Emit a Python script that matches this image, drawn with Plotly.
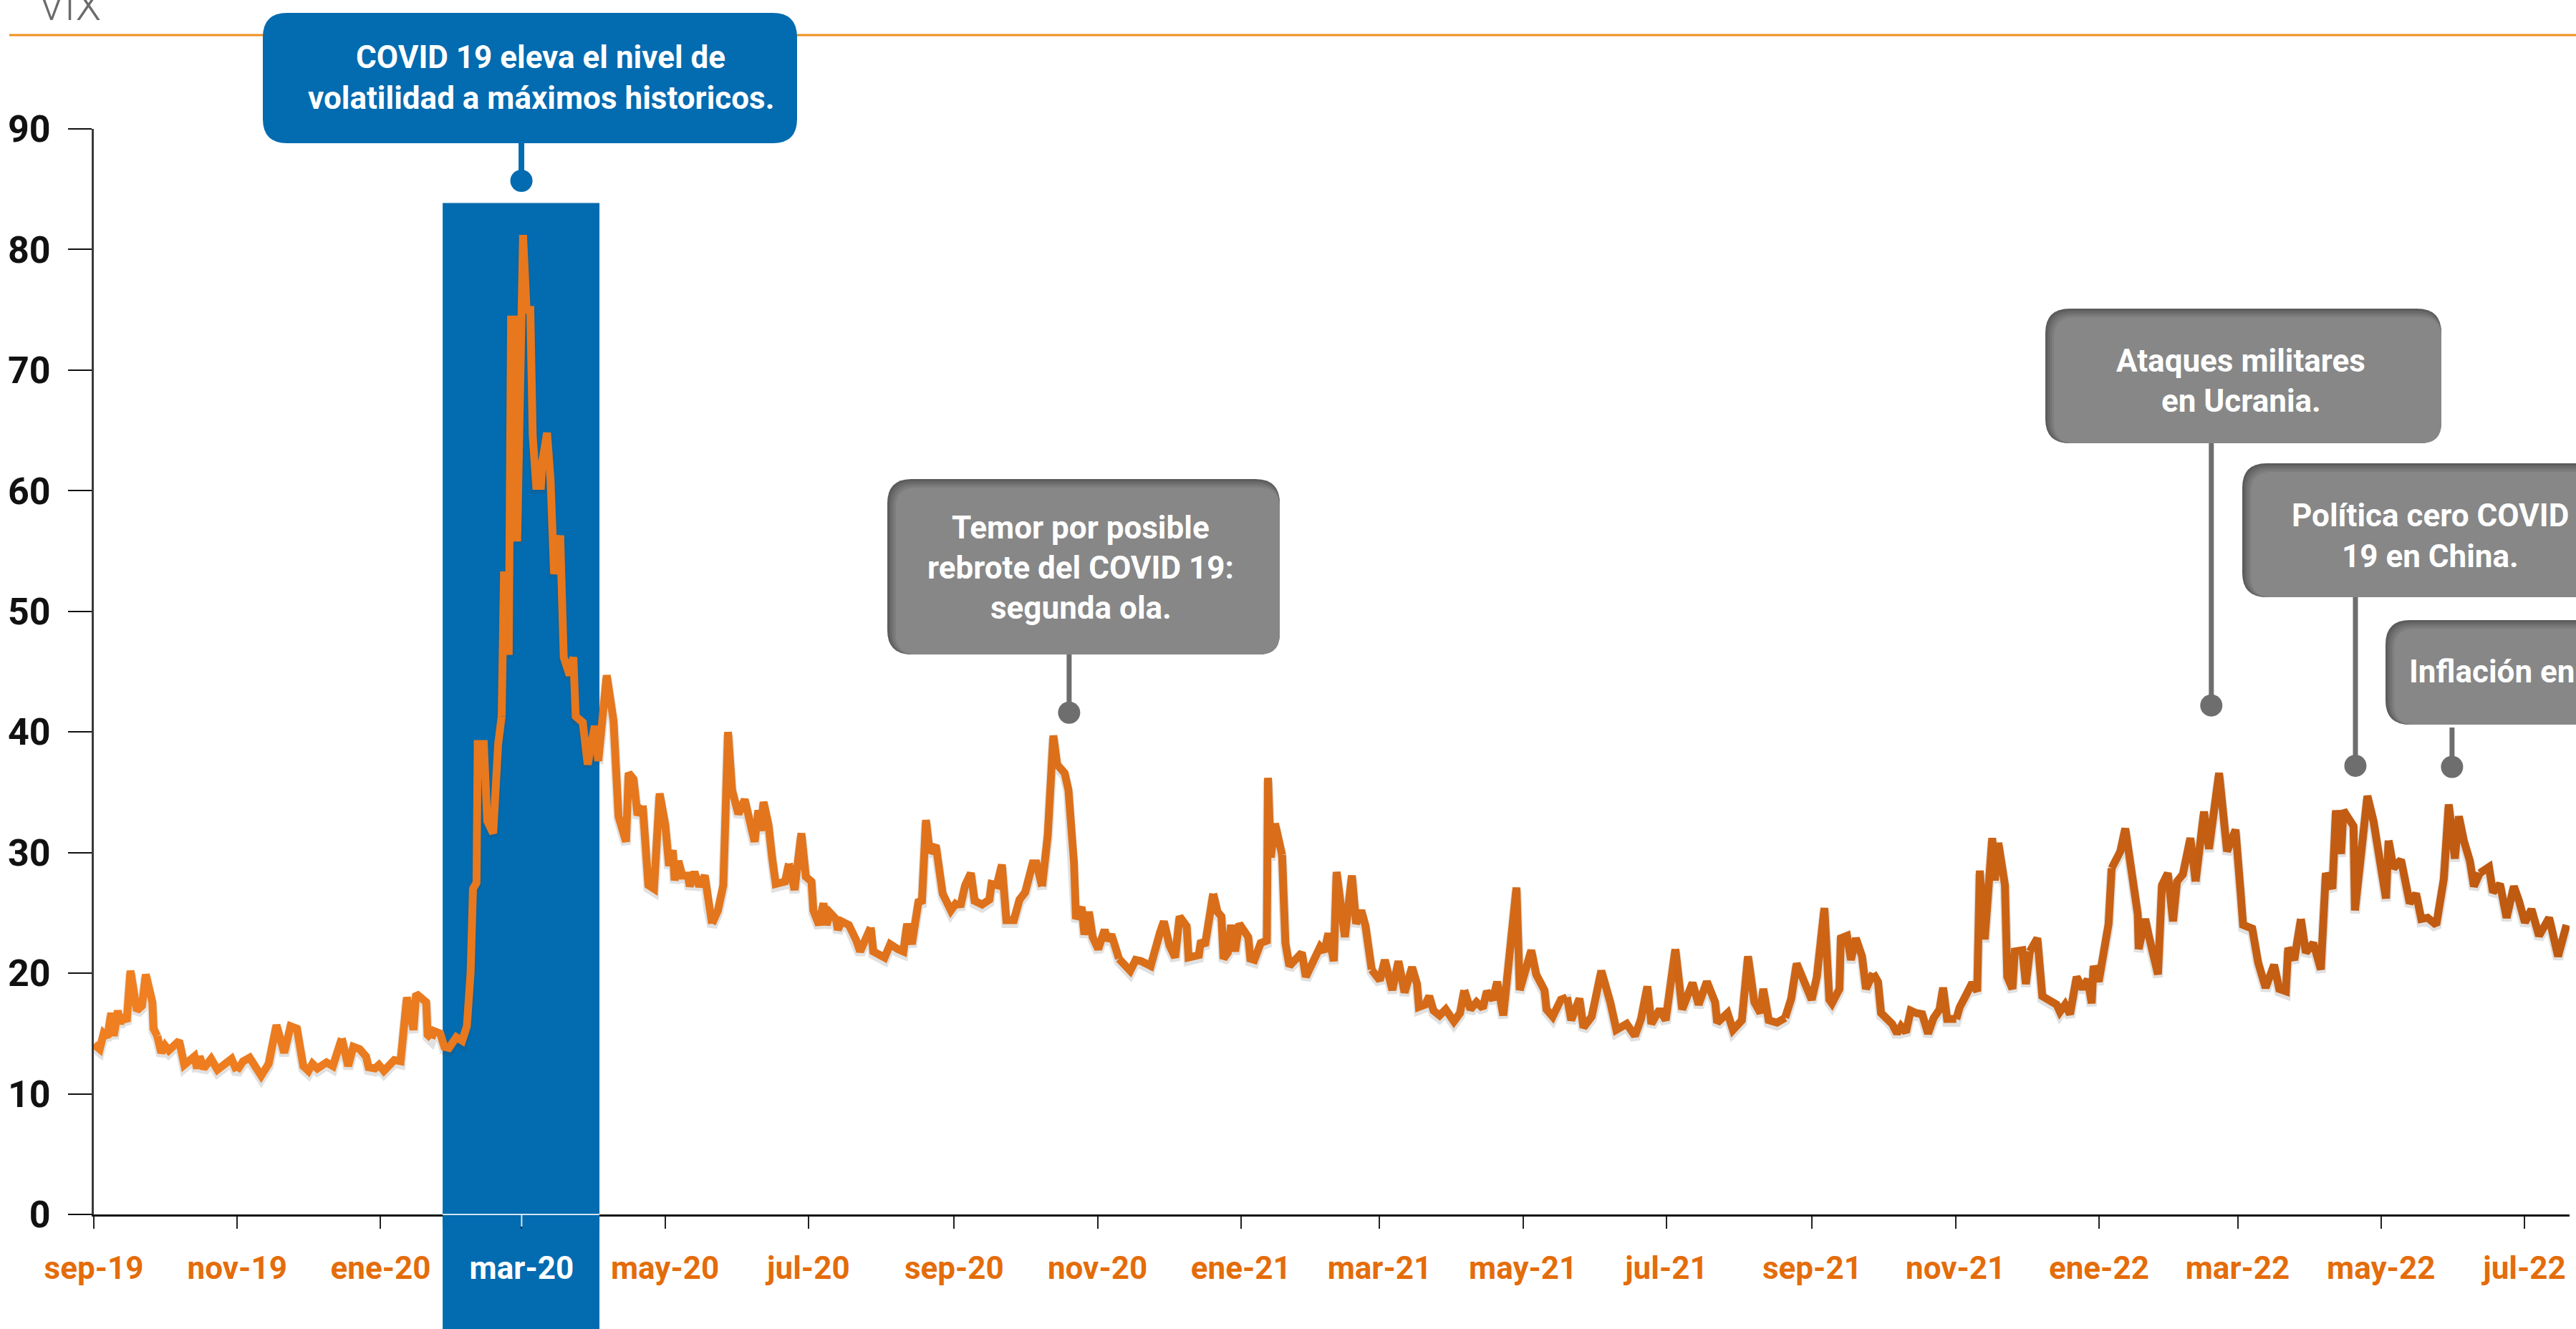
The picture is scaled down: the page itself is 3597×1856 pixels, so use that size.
import pandas as pd
import plotly.graph_objects as go

# ---------------------------------------------------------------- data
START = pd.Timestamp("2019-09-01")

# VIX close; x is measured in days counted from 1 Sep 2019
vix_day = [
    # sep-19 .. ene-20
    0.0, 2.5, 4.2, 5.8, 7.4, 8.5, 10.2, 11.2, 12.3, 14.0,
    15.6, 18.3, 20.5, 22.1, 24.9, 25.4, 27.0, 28.7, 30.3, 31.9,
    34.1, 36.3, 38.5, 40.7, 42.8, 43.9, 45.0, 46.7, 49.9, 52.6,
    55.9, 58.6, 60.8, 63.5, 66.3, 68.4, 71.2, 74.4, 77.7, 81.0,
    83.7, 86.4, 89.1, 91.3, 93.0, 95.1, 99.0, 101.7, 105.5, 108.2,
    110.4, 113.1, 115.8, 116.9, 119.6, 121.3, 123.4, 127.8, 130.5, 133.2,
    136.0, 137.1, 141.4, 142.0, 143.6, 144.7, 147.4,
    # covid shock
    149.1, 151.1, 154.2, 156.7, 158.7, 160.3, 161.3, 162.8, 163.3, 165.9,
    167.4, 169.9, 172.0, 173.5, 174.5, 176.5, 177.5, 179.1, 180.1, 182.6,
    184.1, 185.7, 186.7, 188.2, 190.2, 190.8, 192.8, 194.3, 195.8, 198.4,
    199.9, 202.4, 204.0, 205.0, 208.0, 210.1, 213.1, 214.6, 218.2,
    # may-20 .. dic-20
    221.1, 223.2, 226.4, 227.5, 229.6, 231.3, 233.5, 235.9, 238.3, 240.7,
    243.1, 244.7, 246.3, 247.1, 248.7, 250.3, 252.7, 253.5, 255.5, 257.5,
    259.9, 261.5, 263.0, 265.5, 267.8, 269.8, 271.5, 274.2, 276.9, 279.0,
    281.1, 282.7, 283.8, 284.9, 287.0, 288.6, 290.1, 294.1, 295.7, 298.1,
    301.0, 302.9, 305.3, 306.1, 308.5, 310.4, 311.7, 313.3, 315.7, 316.5,
    318.1, 321.2, 324.4, 326.0, 330.5, 331.6, 336.4, 338.8, 342.0, 344.4,
    346.0, 348.0, 350.8, 352.3, 354.0, 355.6, 358.2, 359.5, 361.1, 364.6,
    367.5, 368.6, 370.7, 373.1, 374.7, 377.9, 381.0, 381.9, 384.2, 386.3,
    388.2, 391.4, 393.8, 396.2, 399.4, 401.0, 403.4, 405.8, 408.2, 409.8,
    413.0, 414.6, 417.0, 417.8, 420.2, 421.4, 423.3, 424.9, 427.3, 430.0,
    431.3, 432.9, 436.1, 440.9, 443.2, 445.6, 449.6, 451.2, 453.6, 455.2,
    457.6, 460.0,
    # dic-20 .. ago-21
    461.9, 464.9, 465.7, 470.1, 471.0, 472.7, 476.2, 478.0, 479.7, 480.6,
    482.4, 483.8, 485.5, 487.3, 491.1, 492.0, 493.7, 496.4, 499.0, 499.5,
    500.7, 502.5, 505.5, 506.9, 508.6, 513.9, 515.6, 519.1, 521.7, 523.5,
    525.2, 527.5, 528.7, 532.2, 535.2, 537.0, 539.2, 541.0, 543.6, 547.1,
    549.2, 552.4, 555.0, 557.6, 560.8, 562.9, 563.7, 566.4, 568.1, 569.9,
    572.5, 575.1, 578.6, 581.2, 583.0, 585.6, 588.2, 590.9, 592.6, 595.2,
    597.0, 599.6, 605.2, 606.6, 611.5, 613.6, 617.1, 618.0, 620.6, 624.1,
    626.7, 628.5, 632.0, 633.7, 637.2, 639.0, 641.3, 645.1, 647.7, 652.1,
    655.6, 658.2, 660.9, 662.6, 666.1, 668.7, 672.8, 675.7, 680.1, 682.7,
    686.2, 689.7, 690.6, 695.0, 697.3, 701.1, 703.7, 706.4, 709.0, 710.2,
    712.5, 716.0, 719.5, 722.1,
    # sep-21 .. jul-22
    724.4, 727.6, 730.8, 733.0, 736.2, 738.3, 739.4, 742.6, 743.2, 745.8,
    747.5, 749.6, 752.2, 753.9, 756.9, 759.0, 760.3, 762.8, 765.0, 767.1,
    768.8, 770.9, 772.9, 775.2, 777.8, 780.3, 782.7, 785.2, 786.7, 788.4,
    792.3, 793.8, 796.5, 799.1, 801.2, 802.3, 804.4, 807.6, 808.7, 810.2,
    813.0, 814.0, 816.2, 817.2, 820.4, 821.9, 823.6, 826.8, 828.9, 831.1,
    835.0, 836.4, 838.6, 840.7, 843.5, 846.0, 848.2, 849.9, 850.7, 852.9,
    855.6, 857.1, 858.4, 862.1, 864.2, 867.0, 869.5, 869.9, 872.7, 874.2,
    875.9, 878.1, 879.8, 882.3, 884.5, 886.2, 888.7, 891.9, 894.1, 897.7,
    899.8, 904.1, 907.5, 911.1, 913.3, 914.3, 918.2, 920.7, 923.9, 927.5,
    929.7, 932.5, 933.5, 936.1, 938.9, 941.0, 944.2, 947.4, 949.5, 952.3,
    953.8, 956.0, 957.0, 961.3, 961.9, 964.5, 967.2, 969.8, 973.0, 975.1,
    976.2, 978.3, 981.5, 983.7, 985.2, 987.9, 990.1, 992.8, 996.5, 999.7,
    1001.8, 1004.4, 1006.1, 1008.2, 1010.8, 1012.5, 1015.0, 1018.9, 1020.6, 1023.6,
    1026.4, 1029.5, 1031.7, 1034.2, 1037.0, 1040.2, 1044.5, 1048.3, 1051.9,
]

vix_value = [
    # sep-19 .. ene-20
    14.1, 13.7, 15.0, 14.7, 16.7, 14.8, 16.9, 15.8, 16.5, 16.0,
    20.2, 16.9, 17.3, 19.9, 17.6, 15.4, 14.8, 13.4, 14.0, 13.6,
    14.0, 14.4, 12.4, 12.7, 13.1, 12.1, 13.1, 12.1, 12.9, 12.0,
    12.6, 12.9, 11.9, 12.7, 13.0, 12.3, 11.5, 12.5, 15.7, 13.4,
    15.6, 15.4, 12.3, 11.9, 12.5, 12.1, 12.6, 12.3, 14.6, 12.3,
    13.9, 13.7, 13.1, 12.2, 12.1, 12.4, 11.9, 12.8, 12.7, 18.0,
    15.3, 18.3, 17.6, 14.9, 14.6, 15.2, 15.0,
    # covid shock
    13.9, 13.8, 14.7, 14.4, 15.6, 20.1, 27.0, 27.5, 39.0, 39.0,
    32.6, 31.6, 39.0, 41.3, 53.3, 46.4, 74.2, 74.2, 55.8, 81.2,
    75.0, 75.0, 64.6, 60.4, 60.4, 62.4, 64.8, 60.9, 53.1, 56.3,
    46.2, 44.7, 46.2, 41.3, 40.8, 37.3, 40.5, 37.6, 44.7,
    # may-20 .. dic-20
    40.9, 33.0, 30.9, 36.6, 36.1, 33.1, 33.9, 27.3, 27.0, 34.9,
    32.3, 28.9, 30.2, 27.7, 29.3, 28.1, 28.1, 27.2, 28.4, 27.2,
    28.1, 25.5, 24.1, 25.2, 27.3, 40.0, 35.2, 33.2, 34.4, 32.5,
    30.9, 33.5, 31.8, 34.2, 32.3, 29.5, 27.4, 27.6, 29.1, 26.9,
    31.6, 28.0, 27.6, 25.2, 24.0, 25.8, 24.0, 25.0, 24.5, 23.6,
    24.3, 24.0, 22.7, 21.8, 23.8, 21.8, 21.3, 22.4, 22.0, 21.8,
    24.1, 22.4, 25.9, 26.0, 32.7, 30.0, 30.6, 28.4, 26.6, 25.2,
    26.0, 25.5, 27.3, 28.3, 26.0, 25.7, 26.1, 27.4, 27.3, 29.0,
    24.4, 24.4, 26.1, 26.7, 29.1, 29.1, 27.2, 31.4, 39.7, 37.3,
    36.6, 35.2, 29.1, 24.5, 25.5, 23.2, 25.1, 23.0, 22.0, 23.6,
    22.7, 23.2, 21.2, 20.2, 21.1, 21.0, 20.6, 22.0, 23.4, 24.3,
    22.3, 21.3,
    # dic-20 .. ago-21
    24.7, 23.9, 21.3, 21.5, 22.7, 22.3, 26.6, 25.1, 24.7, 21.2,
    21.7, 24.0, 21.8, 24.1, 23.0, 21.2, 21.1, 22.5, 22.7, 36.2,
    29.6, 32.4, 29.8, 22.5, 20.6, 21.7, 19.7, 21.1, 22.2, 21.8,
    23.3, 21.0, 28.4, 23.0, 28.1, 24.1, 25.2, 23.9, 20.3, 19.4,
    21.1, 18.6, 21.0, 18.4, 20.5, 19.1, 17.2, 17.4, 18.1, 16.9,
    16.5, 17.0, 16.0, 16.7, 18.6, 17.0, 17.6, 17.1, 18.5, 17.8,
    19.3, 16.5, 27.1, 18.6, 21.9, 19.9, 18.6, 17.0, 16.4, 17.8,
    18.0, 16.1, 17.9, 15.5, 16.4, 17.8, 20.2, 17.6, 15.3, 15.8,
    14.8, 16.2, 18.9, 15.8, 17.0, 16.1, 22.0, 17.0, 19.2, 17.4,
    19.3, 17.6, 15.9, 16.7, 15.3, 16.1, 21.4, 17.6, 16.7, 18.7,
    16.1, 15.9, 16.3, 17.9,
    # sep-21 .. jul-22
    20.8, 19.3, 17.8, 19.7, 25.4, 17.8, 17.5, 18.7, 22.9, 23.1,
    21.1, 22.9, 21.4, 18.7, 20.0, 19.3, 16.7, 16.3, 15.8, 15.0,
    15.6, 15.1, 16.9, 16.7, 16.6, 15.0, 16.3, 17.0, 18.8, 16.2,
    16.2, 17.2, 18.2, 19.2, 18.5, 28.5, 22.8, 31.2, 27.7, 30.8,
    27.3, 19.7, 18.7, 21.8, 21.9, 19.1, 21.8, 22.9, 18.1, 17.8,
    17.4, 16.8, 17.4, 16.6, 19.7, 18.7, 19.5, 17.5, 20.6, 19.3,
    22.4, 24.1, 28.7, 30.1, 32.0, 27.6, 24.9, 22.0, 24.5, 23.1,
    21.4, 19.9, 27.3, 28.3, 24.3, 27.6, 28.2, 31.2, 27.6, 33.4,
    30.3, 36.6, 30.1, 31.9, 26.6, 24.0, 23.7, 20.9, 18.8, 20.7,
    18.7, 18.5, 22.1, 21.1, 24.5, 21.7, 22.5, 20.3, 28.3, 27.0,
    33.5, 29.9, 33.5, 32.2, 25.2, 30.1, 34.7, 32.6, 28.3, 26.2,
    31.0, 28.7, 29.4, 27.0, 25.8, 26.6, 24.5, 24.6, 24.0, 27.8,
    34.0, 29.5, 33.0, 31.0, 29.3, 27.2, 28.3, 28.8, 26.7, 27.4,
    24.6, 27.2, 26.0, 24.2, 25.3, 23.1, 24.6, 21.4, 24.0,
]

tick_dates = [
    "2019-09-01", "2019-11-01", "2020-01-01", "2020-03-01", "2020-05-01",
    "2020-07-01", "2020-09-01", "2020-11-01", "2021-01-01", "2021-03-01",
    "2021-05-01", "2021-07-01", "2021-09-01", "2021-11-01", "2022-01-01",
    "2022-03-01", "2022-05-01", "2022-07-01",
]
tick_labels = [
    "sep-19", "nov-19", "ene-20", "mar-20", "may-20", "jul-20",
    "sep-20", "nov-20", "ene-21", "mar-21", "may-21", "jul-21",
    "sep-21", "nov-21", "ene-22", "mar-22", "may-22", "jul-22",
]
y_ticks = [0, 10, 20, 30, 40, 50, 60, 70, 80, 90]

# shaded window of the covid crash (days from START) and its top (VIX units)
covid_window = (148.4, 215.1)
covid_band_top = 83.85

# event call-outs: marker position (day, VIX level) and text lines
event_day = [181.9, 414.9, 900.8, 962.1, 1003.2]
event_level = [85.7, 41.6, 42.2, 37.2, 37.1]
event_text = [
    ["COVID 19 eleva el nivel de", "volatilidad a máximos historicos."],
    ["Temor por posible", "rebrote del COVID 19:", "segunda ola."],
    ["Ataques militares", "en Ucrania."],
    ["Política cero COVID", "19 en China."],
    ["Inflación en"],
]

# ---------------------------------------------------------------- layout geometry (pixels)
W, H = 3597, 1856
L, R, T, B = 131, 3588, 180, 1696
Y_MAX = 90
PX_PER_DAY = (3525 - 131) / 1034.0
X_END_DAY = (R - L) / PX_PER_DAY
SHADOW_DROP = 4 * Y_MAX / (B - T)      # 4 px drop expressed in VIX units

BLUE = "#036BB0"
GREY_BOX = "#878787"
GREY_PIN = "#6E6E6E"
ORANGE_TXT = "#E46C0A"
FONT = "Roboto, sans-serif"


def to_date(d):
    return START + pd.Timedelta(days=d)


def px(x):
    return (x - L) / (R - L)


def py(y):
    return (B - y) / (B - T)


def rounded_rect(x0, y0, x1, y1, r):
    pts = [
        ("M", [(x0 + r, y0)]), ("L", [(x1 - r, y0)]), ("Q", [(x1, y0), (x1, y0 + r)]),
        ("L", [(x1, y1 - r)]), ("Q", [(x1, y1), (x1 - r, y1)]),
        ("L", [(x0 + r, y1)]), ("Q", [(x0, y1), (x0, y1 - r)]),
        ("L", [(x0, y0 + r)]), ("Q", [(x0, y0), (x0 + r, y0)]),
    ]
    out = []
    for cmd, coords in pts:
        out.append(cmd + " " + " ".join(f"{px(a):.6f},{py(b):.6f}" for a, b in coords))
    return " ".join(out) + " Z"


dates = [to_date(d) for d in vix_day]

fig = go.Figure()

# soft drop shadow of the line (drawn on an overlay axis shifted a few px down)
fig.add_trace(go.Scatter(
    x=dates, y=vix_value, mode="lines", yaxis="y2",
    line=dict(color="rgba(70,70,70,0.16)", width=14),
    hoverinfo="skip", showlegend=False,
))

# ---------------------------------------------------------------- VIX line, shaded light to dark orange
c0, c1 = (240, 127, 32), (190, 89, 17)
n = len(vix_day)
step = 16
for s in range(0, n - 1, step):
    e = min(s + step, n - 1)
    f = ((vix_day[s] + vix_day[e]) / 2) / vix_day[-1]
    col = "rgb({},{},{})".format(*[round(a + (b - a) * f) for a, b in zip(c0, c1)])
    fig.add_trace(go.Scatter(
        x=dates[s:e + 1], y=vix_value[s:e + 1], mode="lines", yaxis="y3",
        line=dict(color=col, width=11), hoverinfo="skip", showlegend=False,
    ))

# call-out pins
pin_colors = [BLUE, GREY_PIN, GREY_PIN, GREY_PIN, GREY_PIN]
fig.add_trace(go.Scatter(
    x=[to_date(d) for d in event_day], y=event_level, mode="markers",
    marker=dict(size=31, color=pin_colors, line=dict(width=0)),
    cliponaxis=False, hoverinfo="skip", showlegend=False,
))

shapes = []
annotations = []

# covid window band (extends under the tick labels)
shapes.append(dict(
    type="rect", xref="x", yref="paper", layer="below",
    x0=to_date(covid_window[0]), x1=to_date(covid_window[1]),
    y0=py(H + 20), y1=covid_band_top / Y_MAX,
    fillcolor=BLUE, line=dict(width=0),
))
# axis line inside the band shows as a thin light line
shapes.append(dict(
    type="rect", xref="x", yref="paper", layer="above",
    x0=to_date(covid_window[0]), x1=to_date(covid_window[1]),
    y0=py(B + 16), y1=py(B - 4), fillcolor=BLUE, line=dict(width=0),
))
shapes.append(dict(
    type="line", xref="x", yref="paper", layer="above",
    x0=to_date(covid_window[0]), x1=to_date(covid_window[1]), y0=0, y1=0,
    line=dict(color="rgba(235,242,250,0.9)", width=2),
))
shapes.append(dict(
    type="line", xref="x", yref="paper", layer="above",
    x0=pd.Timestamp(tick_dates[3]), x1=pd.Timestamp(tick_dates[3]), y0=0, y1=py(B + 17),
    line=dict(color="rgba(235,242,250,0.9)", width=2),
))

# header rule
shapes.append(dict(
    type="line", xref="paper", yref="paper", x0=px(13), x1=px(W + 10), y0=py(49), y1=py(49),
    line=dict(color="#EE8F1C", width=3),
))

# call-out boxes (pixel rectangles) ------------------------------------------------
boxes = [
    dict(rect=(367, 18, 1113, 200), color=BLUE, shadow=False, lines_y=[80, 137], cx=755, anchor="center", size=44),
    dict(rect=(1239, 669, 1787, 914), color=GREY_BOX, shadow=True, lines_y=[737, 793, 849], cx=1509, anchor="center", size=44),
    dict(rect=(2856, 431, 3409, 619), color=GREY_BOX, shadow=True, lines_y=[504, 560], cx=3129, anchor="center", size=44),
    dict(rect=(3131, 647, 3655, 834), color=GREY_BOX, shadow=True, lines_y=[720, 777], cx=3393, anchor="center", size=44),
    dict(rect=(3331, 866, 3800, 1012), color=GREY_BOX, shadow=True, lines_y=[938], cx=3362, anchor="left", size=44),
]
connector_top = [200, 914, 619, 834, 1016]
connector_width = [8, 7, 7, 7, 7]

for i, bx in enumerate(boxes):
    x0, y0, x1, y1 = bx["rect"]
    if bx["shadow"]:
        layers = [("#5C5C5C", 0), ("#686868", 3), ("#737373", 6), ("#7D7D7D", 9), (bx["color"], 12)]
    else:
        layers = [(bx["color"], 0)]
    for col, off in layers:
        shapes.append(dict(
            type="path", xref="paper", yref="paper", layer="above",
            path=rounded_rect(x0 + off, y0 + off, x1, y1, 34 - off * 0.5),
            fillcolor=col, line=dict(width=0),
        ))
    shapes.append(dict(
        type="line", xref="x", yref="paper", layer="above",
        x0=to_date(event_day[i]), x1=to_date(event_day[i]),
        y0=py(connector_top[i]), y1=event_level[i] / Y_MAX,
        line=dict(color=pin_colors[i], width=connector_width[i]),
    ))
    for txt, ly in zip(event_text[i], bx["lines_y"]):
        annotations.append(dict(
            text=txt, xref="paper", yref="paper",
            x=px(bx["cx"]), y=py(ly), xanchor=bx["anchor"], yanchor="middle",
            showarrow=False, font=dict(family=FONT, size=bx["size"], color="white", weight="bold"),
        ))

# chart title, partly cut by the top edge
annotations.append(dict(
    text="VIX", xref="paper", yref="paper", x=px(52), y=py(44),
    xanchor="left", yanchor="bottom", showarrow=False,
    font=dict(family=FONT, size=58, color="#6B6B6B", weight=300),
))

tick_text = [
    f'<span style="color:white">{t}</span>' if t == "mar-20" else t for t in tick_labels
]

fig.update_layout(
    width=W, height=H,
    margin=dict(l=L, r=W - R, t=T, b=H - B, pad=0),
    paper_bgcolor="white", plot_bgcolor="white",
    showlegend=False, hovermode=False,
    shapes=shapes, annotations=annotations,
    xaxis=dict(
        type="date", range=[START, to_date(X_END_DAY)],
        tickmode="array", tickvals=[pd.Timestamp(t) for t in tick_dates], ticktext=tick_text,
        ticks="outside", ticklen=17, tickwidth=2, tickcolor="#222222",
        showline=True, linecolor="#111111", linewidth=3,
        showgrid=False, zeroline=False,
        tickfont=dict(family=FONT, size=44, color=ORANGE_TXT, weight="bold"),
        ticklabelstandoff=17,
    ),
    yaxis=dict(
        range=[0, Y_MAX], tickmode="array", tickvals=y_ticks,
        ticks="outside", ticklen=33, tickwidth=2, tickcolor="#111111",
        showline=True, linecolor="#3A3A3A", linewidth=3,
        showgrid=False, zeroline=False,
        tickfont=dict(family=FONT, size=52, color="#111111", weight="bold"),
        ticklabelstandoff=14,
    ),
    yaxis2=dict(range=[SHADOW_DROP, Y_MAX + SHADOW_DROP], overlaying="y", visible=False),
    yaxis3=dict(range=[0, Y_MAX], overlaying="y", visible=False),
)

fig.write_html("out.html", config={"displayModeBar": False})
